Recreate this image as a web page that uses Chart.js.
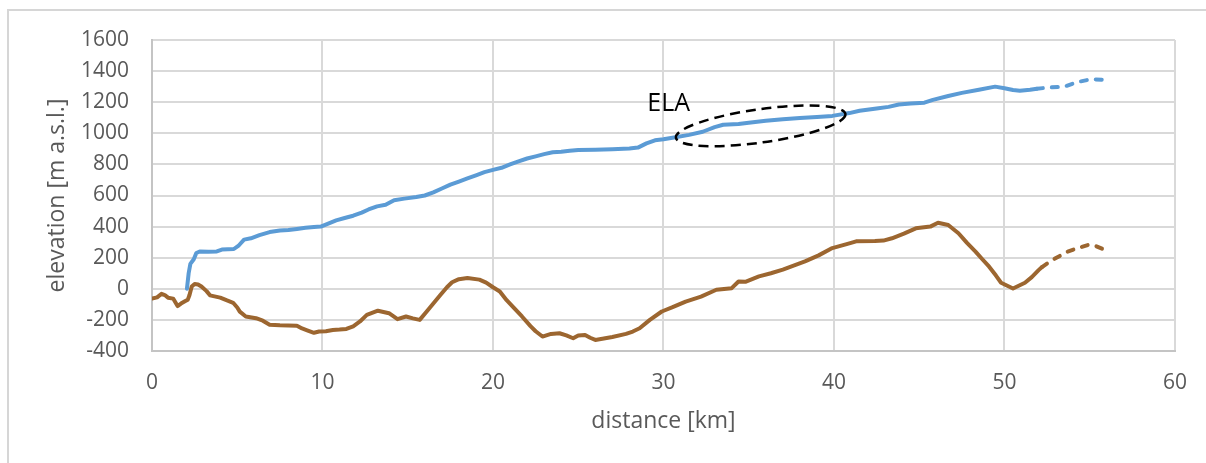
<!DOCTYPE html>
<html>
<head>
<meta charset="utf-8">
<script src="https://cdn.jsdelivr.net/npm/chart.js@4.4.1/dist/chart.umd.min.js"></script>
<style>
  html, body { margin: 0; padding: 0; background: #fff; }
  #wrap { position: relative; width: 1206px; height: 463px; overflow: hidden; }
  #frame { position: absolute; left: 7px; top: 9px; right: -5px; bottom: -5px;
           border-top: 2px solid #d6d6d6; border-left: 2px solid #d6d6d6; pointer-events: none; }
  canvas { position: absolute; left: 0; top: 0; }
</style>
</head>
<body>
<div id="wrap">
  <canvas id="c" width="1206" height="463"></canvas>
  <div id="frame"></div>
</div>
<script>
// ---- Data ----
// Glacier surface profile
const surfDist = [2.05, 2.15, 2.25, 2.45, 2.6, 2.8, 3.3, 3.8, 4.1, 4.8, 5.1, 5.4, 5.8, 6.3, 6.9, 7.5, 8.0, 8.5, 9.0, 9.5, 9.9,
  10.3, 10.8, 11.3, 11.8, 12.3, 12.7, 13.2, 13.7, 14.2, 14.8, 15.5, 16.0, 16.5, 17.0, 17.5, 18.0, 18.5, 19.0, 19.5, 20.0,
  20.5, 21.0, 21.5, 22.0, 22.5, 23.0, 23.5, 24.0, 24.5, 25.0, 26.0, 27.0, 28.0, 28.5, 29.0, 29.5, 30.0, 30.7, 31.5, 32.3,
  33.0, 33.5, 34.4, 35.0, 36.0, 37.0, 38.0, 39.0, 39.9, 40.9, 41.5, 42.5, 43.2, 43.8, 44.5, 45.3, 45.8, 46.7, 47.5, 48.5,
  49.45, 50.0, 50.5, 50.9, 51.5, 51.9, 52.7, 53.5, 54.3, 55.1, 56.0];
const surfElev = [0, 100, 160, 190, 230, 240, 238, 240, 252, 256, 280, 316, 325, 345, 365, 375, 378, 385, 392, 398, 400,
  418, 440, 455, 470, 490, 510, 530, 540, 570, 580, 590, 600, 620, 645, 670, 690, 710, 730, 750, 765,
  778, 800, 820, 838, 852, 866, 878, 882, 888, 892, 895, 898, 902, 908, 935, 955, 962, 975, 990, 1010,
  1040, 1055, 1060, 1068, 1080, 1090, 1098, 1105, 1112, 1130, 1145, 1160, 1170, 1185, 1192, 1197, 1215, 1240, 1260, 1280,
  1300, 1290, 1278, 1274, 1280, 1287, 1295, 1300, 1330, 1348, 1343];
const surfDashFrom = 51.9;

// Glacier bed profile
const bedDist = [0, 0.3, 0.56, 0.75, 0.94, 1.24, 1.5, 1.7, 1.93, 2.1, 2.2, 2.33, 2.5, 2.7, 2.9, 3.2, 3.4, 4.0, 4.4, 4.76,
  5.0, 5.15, 5.5, 6.1, 6.5, 6.9, 7.5, 8.0, 8.5, 8.8, 9.1, 9.5, 9.8, 10.2, 10.6, 11.0, 11.4, 11.8, 12.2, 12.6, 13.25,
  13.9, 14.4, 14.9, 15.3, 15.7, 16.1, 16.5, 16.9, 17.3, 17.6, 18.0, 18.5, 19.2, 19.6, 20.0, 20.4, 20.8, 21.2, 21.7, 22.2,
  22.5, 22.9, 23.4, 23.9, 24.3, 24.7, 25.0, 25.4, 25.7, 26.0, 26.5, 27.0, 27.8, 28.2, 28.6, 29.2, 29.9, 30.5, 31.3, 32.2,
  33.1, 34.0, 34.4, 34.8, 35.6, 36.3, 37.0, 38.3, 39.1, 39.9, 40.9, 41.3, 42.4, 42.9, 43.4, 44.1, 44.8, 45.65, 46.1, 46.7,
  47.3, 47.8, 48.3, 48.7, 49.1, 49.5, 49.8, 50.5, 51.2, 51.6, 52.0, 52.2, 52.8, 53.7, 54.4, 54.9, 55.3, 55.8];
const bedElev = [-63, -55, -32, -40, -57, -63, -111, -95, -80, -70, -40, 15, 31, 28, 15, -15, -42, -57, -75, -90,
  -120, -147, -178, -189, -205, -231, -235, -236, -237, -255, -267, -283, -275, -273, -265, -262, -258, -241, -210, -168, -141,
  -157, -195, -178, -190, -200, -147, -95, -42, 10, 42, 62, 69, 59, 40, 10, -17, -73, -120, -178, -240,
  -273, -307, -290, -286, -300, -318, -300, -297, -315, -329, -320, -310, -290, -275, -254, -200, -146, -120, -82, -50,
  -6, 4, 47, 45, 80, 100, 123, 176, 215, 262, 292, 305, 307, 310, 325, 355, 389, 400, 425, 410,
  357, 295, 239, 190, 142, 85, 39, 2, 39, 75, 120, 140, 185, 239, 265, 282, 277, 254];
const bedDashFrom = 52.2;

// Axes
const xTicks = [0, 10, 20, 30, 40, 50, 60];
const yTicks = [-400, -200, 0, 200, 400, 600, 800, 1000, 1200, 1400, 1600];
const xTitle = 'distance [km]';
const yTitle = 'elevation [m a.s.l.]';

// ELA annotation (data units)
const elaLabel = 'ELA';
const elaLabelAt = [30.3, 1188];
const elaCenter = [35.7, 1048];
const elaRadii = [5.02, 107];   // km, m
const elaTiltDeg = -8;

// ---- Chart ----
const FONT = "'Open Sans', 'DejaVu Sans', sans-serif";
const toXY = (xs, ys) => xs.map((x, i) => ({ x: x, y: ys[i] }));

const elaPlugin = {
  id: 'ela',
  afterDatasetsDraw(chart) {
    const { ctx, scales: { x, y } } = chart;
    const cx = x.getPixelForValue(elaCenter[0]);
    const cy = y.getPixelForValue(elaCenter[1]);
    const rx = Math.abs(x.getPixelForValue(elaCenter[0] + elaRadii[0]) - cx);
    const ry = Math.abs(y.getPixelForValue(elaCenter[1] + elaRadii[1]) - cy);
    ctx.save();
    ctx.strokeStyle = '#000';
    ctx.lineWidth = 2.5;
    ctx.setLineDash([10, 6]);
    ctx.beginPath();
    ctx.ellipse(cx, cy, rx, ry, elaTiltDeg * Math.PI / 180, 0, Math.PI * 2);
    ctx.stroke();
    ctx.setLineDash([]);
    ctx.fillStyle = '#000';
    ctx.font = "25px " + FONT;
    ctx.textAlign = 'center';
    ctx.textBaseline = 'middle';
    ctx.fillText(elaLabel, x.getPixelForValue(elaLabelAt[0]), y.getPixelForValue(elaLabelAt[1]));
    ctx.restore();
  }
};

const whiteBg = {
  id: 'whiteBg',
  beforeDraw(chart) {
    const c = chart.ctx;
    c.save(); c.fillStyle = '#fff'; c.fillRect(0, 0, chart.width, chart.height); c.restore();
  }
};

new Chart(document.getElementById('c'), {
  type: 'line',
  data: {
    datasets: [
      {
        label: 'surface',
        data: toXY(surfDist, surfElev),
        borderColor: '#5B9BD5',
        borderWidth: 4,
        pointRadius: 0,
        tension: 0,
        borderCapStyle: 'round',
        borderJoinStyle: 'round',
        segment: { borderDash: c => (c.p0.parsed.x >= surfDashFrom ? [6, 9] : undefined) }
      },
      {
        label: 'bed',
        data: toXY(bedDist, bedElev),
        borderColor: '#9C6630',
        borderWidth: 4,
        pointRadius: 0,
        tension: 0,
        borderCapStyle: 'round',
        borderJoinStyle: 'round',
        segment: { borderDash: c => (c.p0.parsed.x >= bedDashFrom ? [6, 9] : undefined) }
      }
    ]
  },
  options: {
    responsive: false,
    animation: false,
    devicePixelRatio: 1,
    layout: { padding: { left: 0, top: 40, right: 29, bottom: 0 } },
    plugins: { legend: { display: false }, tooltip: { enabled: false } },
    scales: {
      x: {
        type: 'linear',
        min: 0, max: 60,
        afterBuildTicks: s => { s.ticks = xTicks.map(v => ({ value: v })); },
        afterFit: s => { s.height = 112; },
        grid: { color: '#d9d9d9', lineWidth: 2, drawTicks: false },
        border: { color: '#c4c4c4', width: 2 },
        ticks: { color: '#595959', font: { family: FONT, size: 21 }, padding: 19, maxRotation: 0,
                 callback: v => String(v) },
        title: { display: true, text: xTitle, color: '#595959', font: { family: FONT, size: 23 },
                 padding: { top: 0, bottom: 28 } }
      },
      y: {
        type: 'linear',
        min: -400, max: 1600,
        afterBuildTicks: s => { s.ticks = yTicks.map(v => ({ value: v })); },
        afterFit: s => { s.width = 152; },
        grid: { color: '#d9d9d9', lineWidth: 2, drawTicks: false },
        border: { color: '#c4c4c4', width: 2 },
        ticks: { color: '#595959', font: { family: FONT, size: 21 }, padding: 23,
                 callback: v => String(v) },
        title: { display: true, text: yTitle, color: '#595959', font: { family: FONT, size: 23 },
                 padding: { top: 44, bottom: 0 } }
      }
    }
  },
  plugins: [whiteBg, elaPlugin]
});
</script>
</body>
</html>
